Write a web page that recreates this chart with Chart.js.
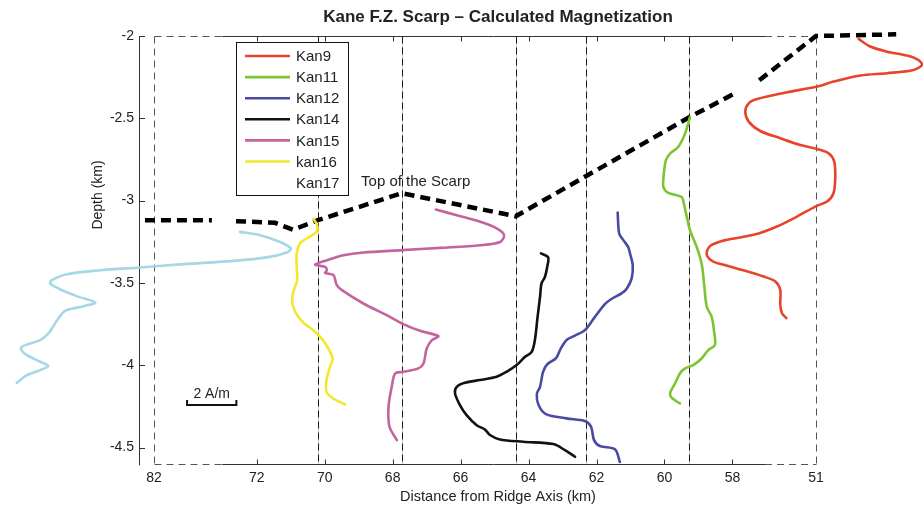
<!DOCTYPE html>
<html>
<head>
<meta charset="utf-8">
<title>Kane F.Z. Scarp – Calculated Magnetization</title>
<script src="https://cdn.jsdelivr.net/npm/chart.js@4.4.1/dist/chart.umd.min.js"></script>
<style>
  html, body { margin: 0; padding: 0; background: #fff; }
  #wrap { width: 923px; height: 508px; }
</style>
</head>
<body>
<div id="wrap"><canvas id="chart" width="923" height="508"></canvas></div>
<script>
// Profiles: magnetization (A/m) vs depth (km), plotted around each profile's baseline
const PROFILES = ['Kan9', 'Kan11', 'Kan12', 'Kan14', 'Kan15', 'kan16', 'Kan17'];
const BASE_KM  = [55.54, 59.27, 62.32, 64.38, 67.73, 70.20, 75.02];
const COLORS   = ['#e8432b', '#7cc530', '#4a4aa3', '#111111', '#c4649f', '#f3e82c', '#a6d7e6'];

const KAN9_MAG = [1.73, 2.20, 2.88, 3.69, 4.16, 4.30, 3.96, 2.88, 1.80, 0.71, 0.04, -1.18, -2.39, -2.73, -2.87, -2.73, -2.26, -1.45, -0.64, 0.04, 0.51, 0.74, 0.78, 0.71, 0.45, -0.03, -0.77, -1.58, -2.53, -3.68, -4.25, -4.41, -4.41, -4.17, -3.68, -2.87, -2.13, -1.65, -1.45, -1.45, -1.38, -1.20];
const KAN9_DEPTH = [-2.018, -2.064, -2.095, -2.119, -2.146, -2.176, -2.206, -2.226, -2.240, -2.277, -2.307, -2.342, -2.383, -2.409, -2.459, -2.520, -2.577, -2.621, -2.662, -2.686, -2.712, -2.763, -2.864, -2.955, -3.005, -3.036, -3.097, -3.157, -3.208, -3.240, -3.271, -3.301, -3.338, -3.371, -3.392, -3.426, -3.461, -3.491, -3.542, -3.633, -3.684, -3.714];

const KAN11_MAG = [0.03, -0.17, -0.45, -0.78, -0.95, -1.03, -1.05, -0.85, -0.31, -0.22, -0.13, 0.03, 0.30, 0.50, 0.60, 0.71, 0.91, 1.00, 1.04, 0.77, 0.50, 0.16, -0.17, -0.38, -0.58, -0.78, -0.71, -0.38];
const KAN11_DEPTH = [-2.492, -2.593, -2.674, -2.714, -2.755, -2.835, -2.917, -2.953, -2.978, -3.018, -3.078, -3.180, -3.281, -3.382, -3.503, -3.645, -3.706, -3.787, -3.878, -3.908, -3.959, -3.999, -4.019, -4.050, -4.111, -4.171, -4.198, -4.232];

const KAN12_MAG = [1.30, 1.36, 1.53, 1.73, 1.80, 1.91, 1.87, 1.68, 1.47, 1.03, 0.78, 0.34, -0.03, -0.43, -0.76, -1.00, -1.20, -1.57, -1.73, -1.85, -1.98, -1.91, -1.61, -0.77, -0.03, 0.22, 0.34, 0.58, 1.19, 1.39];
const KAN12_DEPTH = [-3.072, -3.200, -3.240, -3.283, -3.321, -3.392, -3.471, -3.532, -3.562, -3.599, -3.629, -3.714, -3.787, -3.820, -3.845, -3.896, -3.957, -3.996, -4.042, -4.131, -4.175, -4.242, -4.297, -4.323, -4.339, -4.374, -4.455, -4.491, -4.511, -4.588];

const KAN14_MAG = [1.03, 1.32, 1.28, 1.19, 1.05, 0.99, 0.89, 0.78, 0.65, 0.38, 0.04, -0.37, -0.77, -1.45, -2.06, -2.39, -2.46, -2.26, -1.99, -1.58, -1.25, -1.04, -0.64, 0.31, 1.53, 2.00, 2.41];
const KAN14_DEPTH = [-3.321, -3.345, -3.403, -3.463, -3.503, -3.585, -3.706, -3.848, -3.919, -3.949, -3.999, -4.040, -4.070, -4.090, -4.107, -4.131, -4.171, -4.242, -4.303, -4.364, -4.390, -4.424, -4.451, -4.465, -4.479, -4.516, -4.556];

const KAN15_MAG = [1.38, 2.23, 3.18, 3.85, 4.15, 3.99, 3.18, 1.55, 0.00, -1.56, -2.37, -3.04, -3.52, -3.11, -3.04, -3.11, -2.77, -2.64, -2.43, -1.56, -0.61, 0.06, 0.74, 1.48, 1.22, 1.01, 0.88, 0.67, 0.06, -0.27, -0.41, -0.54, -0.50, -0.20];
const KAN15_DEPTH = [-3.054, -3.089, -3.129, -3.169, -3.210, -3.251, -3.271, -3.287, -3.301, -3.315, -3.332, -3.362, -3.388, -3.403, -3.423, -3.439, -3.453, -3.514, -3.544, -3.625, -3.696, -3.750, -3.791, -3.823, -3.848, -3.898, -3.989, -4.019, -4.040, -4.050, -4.131, -4.253, -4.374, -4.455];

const KAN16_MAG = [-0.19, -0.03, -0.05, -0.46, -0.73, -0.86, -0.86, -0.84, -0.93, -1.04, -1.00, -0.80, -0.53, -0.19, 0.15, 0.42, 0.60, 0.49, 0.35, 0.35, 0.62, 1.10];
const KAN16_DEPTH = [-3.109, -3.149, -3.190, -3.230, -3.260, -3.321, -3.403, -3.483, -3.524, -3.585, -3.645, -3.706, -3.750, -3.787, -3.837, -3.898, -3.959, -4.010, -4.090, -4.162, -4.202, -4.238];

const KAN17_MAG = [3.49, 4.30, 5.11, 5.55, 5.38, 4.57, 3.22, 1.19, -0.57, -2.19, -3.54, -4.15, -4.22, -3.88, -3.14, -2.39, -2.87, -3.54, -3.74, -4.02, -4.29, -4.62, -5.23, -5.41, -5.16, -4.62, -4.29, -4.56, -5.16, -5.57];
const KAN17_DEPTH = [-3.190, -3.210, -3.251, -3.291, -3.315, -3.345, -3.366, -3.386, -3.406, -3.423, -3.447, -3.483, -3.503, -3.534, -3.580, -3.619, -3.641, -3.665, -3.686, -3.746, -3.807, -3.848, -3.878, -3.898, -3.939, -3.979, -4.005, -4.026, -4.060, -4.107];

const MAGS   = [KAN9_MAG, KAN11_MAG, KAN12_MAG, KAN14_MAG, KAN15_MAG, KAN16_MAG, KAN17_MAG];
const DEPTHS = [KAN9_DEPTH, KAN11_DEPTH, KAN12_DEPTH, KAN14_DEPTH, KAN15_DEPTH, KAN16_DEPTH, KAN17_DEPTH];

// top of the scarp (null = gap in the line)
const SCARP_KM    = [75.29, 73.32, null, 72.61, 71.46, 70.93, 70.20, 67.73, 64.38, 59.27, 57.98, null, 57.21, 55.54, 53.18];
const SCARP_DEPTH = [-3.119, -3.119, null, -3.125, -3.135, -3.177, -3.119, -2.955, -3.095, -2.494, -2.354, null, -2.269, -2.0, -1.99];

// axes
const X_TICK_VALUES = [75.02, 72, 70, 68, 66, 64, 62, 60, 58, 55.54];
const X_TICK_LABELS = ['82', '72', '70', '68', '66', '64', '62', '60', '58', '51'];
const Y_TICKS = [-2, -2.5, -3, -3.5, -4, -4.5];

const KM_PER_AM = 0.7254;     // horizontal scale of the magnetization curves
const SCALE_BAR_AM = 2;

const FONT = "'Liberation Sans', Arial, Helvetica, sans-serif";
Chart.defaults.font.family = FONT;
Chart.defaults.color = '#222';

const datasets = PROFILES.map((name, i) => ({
  label: name,
  data: MAGS[i].map((m, j) => ({ x: BASE_KM[i] - m * KM_PER_AM, y: DEPTHS[i][j] })),
  borderColor: COLORS[i],
  borderWidth: 2.6,
  borderJoinStyle: 'round',
  borderCapStyle: 'round',
  tension: 0.3,
  showLine: true,
  pointRadius: 0,
  clip: false
}));
datasets.push({
  label: 'Top of the Scarp',
  data: SCARP_KM.map((km, i) => ({ x: km, y: SCARP_DEPTH[i] })),
  borderColor: '#000',
  borderWidth: 4.5,
  borderDash: [10, 6],
  tension: 0,
  showLine: true,
  spanGaps: false,
  pointRadius: 0,
  clip: false
});

function px(v) { return Math.round(v) + 0.5; }

// dashed baselines, partly dashed box, inward ticks
const frame = {
  id: 'frame',
  beforeDatasetsDraw(chart) {
    const { ctx, chartArea: a, scales: { x, y } } = chart;
    const top = px(a.top), bottom = px(a.bottom);
    const solidL = x.getPixelForValue(73.02), solidR = x.getPixelForValue(57.04);
    const boxL = px(x.getPixelForValue(BASE_KM[BASE_KM.length - 1]));
    const boxR = px(x.getPixelForValue(BASE_KM[0]));
    ctx.save();
    ctx.lineWidth = 1;

    BASE_KM.forEach((km, i) => {
      if (i === 0 || i === BASE_KM.length - 1) return;
      const bx = px(x.getPixelForValue(km));
      ctx.setLineDash([]);
      ctx.strokeStyle = '#c8c8c8';
      ctx.beginPath(); ctx.moveTo(bx, top); ctx.lineTo(bx, bottom); ctx.stroke();
      ctx.setLineDash([7, 4]);
      ctx.strokeStyle = '#1a1a1a';
      ctx.beginPath(); ctx.moveTo(bx, top); ctx.lineTo(bx, bottom); ctx.stroke();
    });

    ctx.setLineDash([7, 5]);
    ctx.strokeStyle = '#555';
    ctx.beginPath();
    ctx.moveTo(boxL, top); ctx.lineTo(boxL, bottom);
    ctx.moveTo(boxR, top); ctx.lineTo(boxR, bottom);
    [top, bottom].forEach(yy => {
      ctx.moveTo(boxL, yy); ctx.lineTo(solidL, yy);
      ctx.moveTo(solidR, yy); ctx.lineTo(boxR, yy);
    });
    ctx.stroke();

    ctx.setLineDash([]);
    ctx.strokeStyle = '#333';
    ctx.beginPath();
    ctx.moveTo(px(a.left), top); ctx.lineTo(px(a.left), bottom + 1);
    [top, bottom].forEach(yy => { ctx.moveTo(solidL, yy); ctx.lineTo(solidR, yy); });
    X_TICK_VALUES.forEach((v, i) => {
      if (X_TICK_LABELS[i] !== String(v)) return;
      const tx = px(x.getPixelForValue(v));
      ctx.moveTo(tx, bottom); ctx.lineTo(tx, bottom - 5);
      ctx.moveTo(tx, top); ctx.lineTo(tx, top + 5);
    });
    Y_TICKS.forEach(v => {
      const ty = px(y.getPixelForValue(v));
      ctx.moveTo(a.left, ty); ctx.lineTo(a.left + 6, ty);
    });
    ctx.stroke();
    ctx.restore();
  },
  afterDraw(chart) {
    const { ctx, scales: { x, y } } = chart;
    ctx.save();
    ctx.fillStyle = '#222';
    ctx.textBaseline = 'middle';

    ctx.font = 'bold 17px ' + FONT;
    ctx.textAlign = 'center';
    ctx.fillText('Kane F.Z. Scarp – Calculated Magnetization', 498, 17);

    ctx.font = '14.5px ' + FONT;
    ctx.fillText('Distance from Ridge Axis (km)', 498, 497);

    ctx.save();
    ctx.translate(98, 195);
    ctx.rotate(-Math.PI / 2);
    ctx.font = '14px ' + FONT;
    ctx.fillText('Depth (km)', 0, 0);
    ctx.restore();

    // scarp label
    ctx.font = '15px ' + FONT;
    ctx.textAlign = 'left';
    ctx.fillText('Top of the Scarp', x.getPixelForValue(68.93), y.getPixelForValue(-2.888));

    // scale bar
    const sx0 = x.getPixelForValue(74.05);
    const sx1 = x.getPixelForValue(74.05 - SCALE_BAR_AM * KM_PER_AM);
    const sy = y.getPixelForValue(-4.242);
    ctx.strokeStyle = '#111';
    ctx.lineWidth = 2;
    ctx.beginPath();
    ctx.moveTo(sx0, sy - 5); ctx.lineTo(sx0, sy); ctx.lineTo(sx1, sy); ctx.lineTo(sx1, sy - 5);
    ctx.stroke();
    ctx.font = '14px ' + FONT;
    ctx.textAlign = 'center';
    ctx.fillText(SCALE_BAR_AM + ' A/m', (sx0 + sx1) / 2, sy - 11);

    // legend
    const L = { left: 236.5, top: 42.5, w: 112, h: 153, row0: 56, rowH: 21.1 };
    ctx.fillStyle = '#fff';
    ctx.fillRect(L.left, L.top, L.w, L.h);
    ctx.lineWidth = 1;
    ctx.strokeStyle = '#111';
    ctx.strokeRect(L.left, L.top, L.w, L.h);
    ctx.font = '15px ' + FONT;
    ctx.textAlign = 'left';
    PROFILES.forEach((name, i) => {
      const ly = L.row0 + i * L.rowH;
      if (name !== 'Kan17') {
        ctx.strokeStyle = COLORS[i];
        ctx.lineWidth = 2.6;
        ctx.beginPath(); ctx.moveTo(245, ly); ctx.lineTo(290, ly); ctx.stroke();
      }
      ctx.fillStyle = '#222';
      ctx.fillText(name, 296, ly + 1);
    });
    ctx.restore();
  }
};

new Chart(document.getElementById('chart'), {
  type: 'scatter',
  data: { datasets },
  options: {
    responsive: false,
    animation: false,
    events: [],
    devicePixelRatio: 1,
    layout: { padding: { left: 0, right: 107, top: 36, bottom: 0 } },
    plugins: { legend: { display: false }, tooltip: { enabled: false }, title: { display: false } },
    scales: {
      x: {
        type: 'linear',
        reverse: true,
        min: 55.54,
        max: 75.465,
        grid: { display: false, drawTicks: false },
        border: { display: false },
        afterFit: s => { s.height = 44; },
        afterBuildTicks: s => { s.ticks = X_TICK_VALUES.map(value => ({ value })); },
        ticks: {
          autoSkip: false,
          maxRotation: 0,
          padding: 6,
          font: { size: 14 },
          color: '#222',
          callback: (v, i) => X_TICK_LABELS[i]
        }
      },
      y: {
        type: 'linear',
        min: -4.6,
        max: -2,
        grid: { display: false, drawTicks: false },
        border: { display: false },
        afterFit: s => { s.width = 139; },
        afterBuildTicks: s => { s.ticks = Y_TICKS.map(value => ({ value })); },
        ticks: {
          padding: 5,
          font: { size: 14 },
          color: '#222',
          callback: v => String(v)
        }
      }
    }
  },
  plugins: [frame]
});
</script>
</body>
</html>
